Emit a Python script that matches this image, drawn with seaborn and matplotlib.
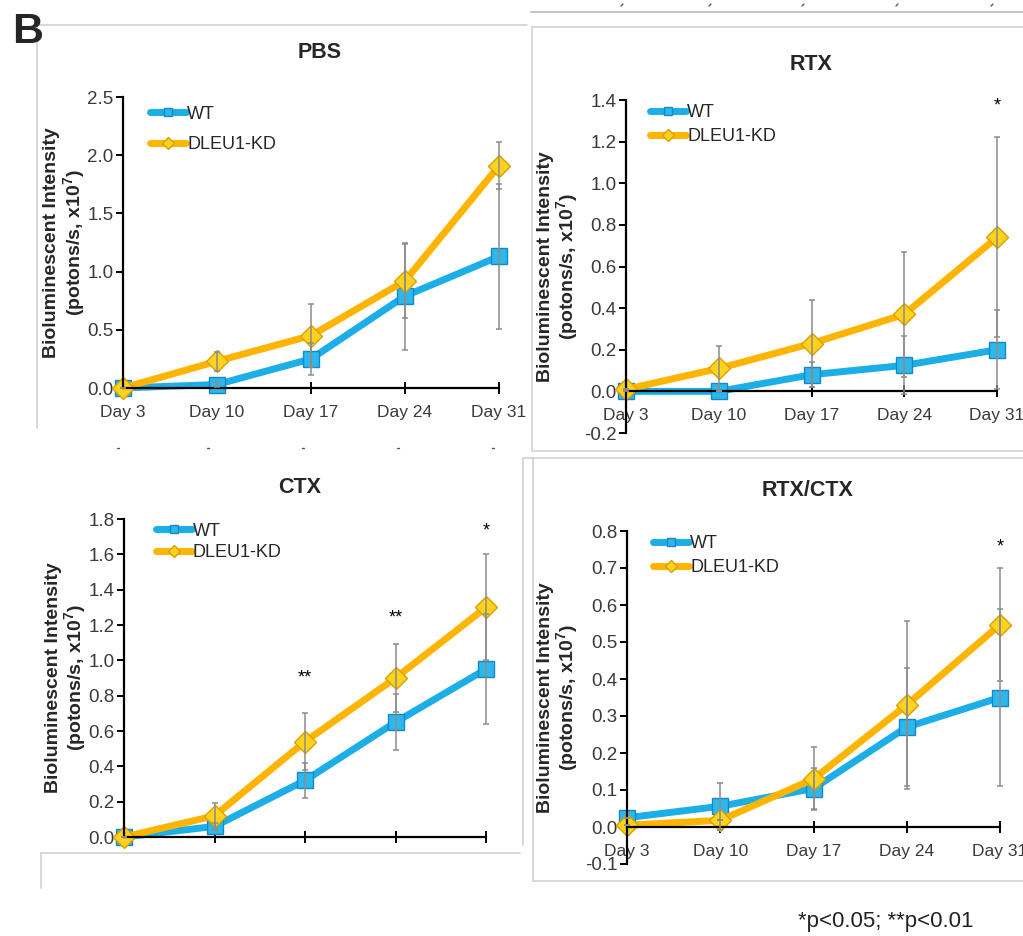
import matplotlib
matplotlib.use("Agg")
import matplotlib.pyplot as plt
import seaborn as sns
import numpy as np
import pandas as pd
from matplotlib.lines import Line2D

sns.set_style("white")
plt.rcParams['font.family'] = ['Liberation Sans', 'DejaVu Sans']
plt.rcParams['mathtext.fontset'] = 'custom'
plt.rcParams['mathtext.rm'] = 'Liberation Sans'
plt.rcParams['mathtext.bf'] = 'Liberation Sans:bold'

days = ["Day 3", "Day 10", "Day 17", "Day 24", "Day 31"]
series = ["WT", "DLEU1-KD"]

pbs_wt = [0.0, 0.03, 0.25, 0.79, 1.13]
pbs_wt_sd = [0.0, 0.02, 0.14, 0.46, 0.62]
pbs_kd = [0.0, 0.23, 0.45, 0.92, 1.91]
pbs_kd_sd = [0.0, 0.08, 0.27, 0.32, 0.20]

rtx_wt = [0.0, 0.0, 0.08, 0.125, 0.20]
rtx_wt_sd = [0.0, 0.0, 0.06, 0.14, 0.19]
rtx_kd = [0.01, 0.11, 0.23, 0.37, 0.74]
rtx_kd_sd = [0.0, 0.11, 0.21, 0.30, 0.48]

ctx_wt = [0.0, 0.06, 0.32, 0.65, 0.95]
ctx_wt_sd = [0.0, 0.02, 0.10, 0.16, 0.31]
ctx_kd = [0.0, 0.12, 0.54, 0.90, 1.30]
ctx_kd_sd = [0.0, 0.07, 0.16, 0.19, 0.30]

rc_wt = [0.025, 0.056, 0.104, 0.27, 0.35]
rc_wt_sd = [0.0, 0.063, 0.055, 0.16, 0.24]
rc_kd = [0.005, 0.018, 0.13, 0.33, 0.547]
rc_kd_sd = [0.0, 0.0, 0.085, 0.227, 0.153]

titles = ["PBS", "RTX", "CTX", "RTX/CTX"]
ylims = [(0, 2.5), (-0.2, 1.4), (0, 1.8), (-0.1, 0.8)]
ysteps = [0.5, 0.2, 0.2, 0.1]
stars = [[], [(4, 1.37, "*")], [(2, 0.90, "**"), (3, 1.24, "**"), (4, 1.73, "*")], [(4, 0.757, "*")]]

W, H = 1023, 936
fig = plt.figure(figsize=(W / 100, H / 100), dpi=100)

def fx(px):
    return px / W

def fy(py):
    return 1 - py / H

# axes boxes in pixels: left, right, top, bottom
boxes = [(123, 499, 97, 388), (626, 997, 100, 433), (124, 486, 519, 837), (627, 1000, 531, 864)]
title_pos = [(320, 52), (811, 65), (300, 487), (808, 491)]
ylabel_x = [-0.094, -0.121, -0.096, -0.123]
legend_anchor = [(0.072, 0.97), (0.065, 0.988), (0.088, 0.988), (0.07, 0.988)]
legend_spacing = [0.75, 0.4, 0.25, 0.4]
show_xlabels = [True, True, False, True]

data = [
    (pbs_wt, pbs_wt_sd, pbs_kd, pbs_kd_sd),
    (rtx_wt, rtx_wt_sd, rtx_kd, rtx_kd_sd),
    (ctx_wt, ctx_wt_sd, ctx_kd, ctx_kd_sd),
    (rc_wt, rc_wt_sd, rc_kd, rc_kd_sd),
]

blue_line = "#1CAEE6"
blue_face = "#2DB8EC"
blue_edge = "#1788C4"
yel_line = "#FFB500"
yel_face = "#FFD21E"
yel_edge = "#D9A000"
err_col = "#8C8C8C"

for i in range(4):
    l, r, t, b = boxes[i]
    ax = fig.add_axes([fx(l), fy(b), fx(r - l), (b - t) / H])
    wt, wt_sd, kd, kd_sd = data[i]
    x = np.arange(len(days))
    df = pd.DataFrame({
        "x": np.concatenate([x, x]),
        "y": wt + kd,
        "group": [series[0]] * len(days) + [series[1]] * len(days),
    })
    ax.errorbar(x, wt, yerr=wt_sd, fmt="none", ecolor=err_col, elinewidth=1.1,
                capsize=2.5, capthick=1.1, zorder=3, clip_on=False)
    ax.errorbar(x, kd, yerr=kd_sd, fmt="none", ecolor=err_col, elinewidth=1.1,
                capsize=2.5, capthick=1.1, zorder=3, clip_on=False)
    sns.lineplot(data=df[df.group == series[0]], x="x", y="y", ax=ax, color=blue_line,
                 lw=5, marker="s", markersize=11, markerfacecolor=blue_face,
                 markeredgecolor=blue_edge, markeredgewidth=1.0, label=series[0],
                 clip_on=False, zorder=2)
    sns.lineplot(data=df[df.group == series[1]], x="x", y="y", ax=ax, color=yel_line,
                 lw=5, marker="D", markersize=11.5, markerfacecolor=yel_face,
                 markeredgecolor=yel_edge, markeredgewidth=1.0, label=series[1],
                 clip_on=False, zorder=2.5)
    ax.set_xlim(0, 4)
    ax.set_ylim(*ylims[i])
    lo, hi = ylims[i]
    ticks = np.round(np.arange(lo, hi + 1e-9, ysteps[i]), 2)
    ax.set_yticks(ticks)
    ax.set_yticklabels([f"{v:.1f}" for v in ticks])
    ax.set_xticks(x)
    if show_xlabels[i]:
        ax.set_xticklabels(days)
    else:
        ax.set_xticklabels([])
    ax.set_xlabel("")
    ax.set_ylabel("Bioluminescent Intensity\n(potons/s, x10$^{\\mathbf{7}}$)",
                  fontsize=14, fontweight="bold", linespacing=1.05)
    ax.yaxis.set_label_coords(ylabel_x[i], 0.5)
    for s in ["top", "right"]:
        ax.spines[s].set_visible(False)
    ax.spines["left"].set_color("black")
    ax.spines["bottom"].set_color("black")
    ax.spines["left"].set_linewidth(1.6)
    ax.spines["bottom"].set_linewidth(1.6)
    ax.spines["bottom"].set_position(("data", 0))
    ax.tick_params(axis="y", direction="out", length=5, width=1.4, color="black",
                   labelsize=13.5, labelcolor="#3a3a3a", pad=2, left=True)
    ax.tick_params(axis="x", direction="inout", length=8, width=1.4, color="black",
                   labelsize=12.5, labelcolor="#3a3a3a", pad=8, bottom=True)
    ax.set_facecolor("none")
    ax.patch.set_alpha(0)
    for (sx, sy, st) in stars[i]:
        ax.text(sx, sy, st, ha="center", va="center", fontsize=13, color="black")
    leg = ax.legend(loc="upper left", bbox_to_anchor=legend_anchor[i], frameon=False,
                    fontsize=13, handlelength=2.0, handletextpad=0.05,
                    labelspacing=legend_spacing[i], borderpad=0, borderaxespad=0,
                    markerscale=0.5)
    fig.text(fx(title_pos[i][0]), fy(title_pos[i][1]), titles[i], ha="center", va="center",
             fontsize=15.5, fontweight="bold")

# panel letter and footnote
fig.text(fx(12), fy(43), "B", fontsize=31, fontweight="bold", ha="left", va="baseline")
fig.text(fx(886), fy(921), "*p<0.05; **p<0.01", fontsize=16, ha="center", va="center",
         color="#222222")

# light chart-area frames
fc = "#D6D6D6"
def seg(x0, y0, x1, y1, c=fc, lw=1.3):
    fig.add_artist(Line2D([fx(x0), fx(x1)], [fy(y0), fy(y1)], color=c, lw=lw))

seg(37, 25, 527, 25)
seg(37, 25, 37, 428)
seg(531, 12, 1023, 12, c="#BDBDBD")
seg(532, 27, 1023, 27)
seg(532, 27, 532, 451)
seg(532, 451, 1023, 451)
seg(523, 458, 1023, 458)
seg(523, 458, 523, 845)
seg(41, 853, 520, 853)
seg(41, 853, 41, 888)
seg(533, 458, 533, 881)
seg(533, 881, 1023, 881)
for xx in [622, 710, 803, 897, 992]:
    seg(xx - 1, 6, xx + 1, 4, c="#555555", lw=1)
for xx in [118, 208, 303, 398, 493]:
    seg(xx - 1, 448, xx + 1, 448, c="#555555", lw=1)

fig.savefig("out.png", dpi=100)
